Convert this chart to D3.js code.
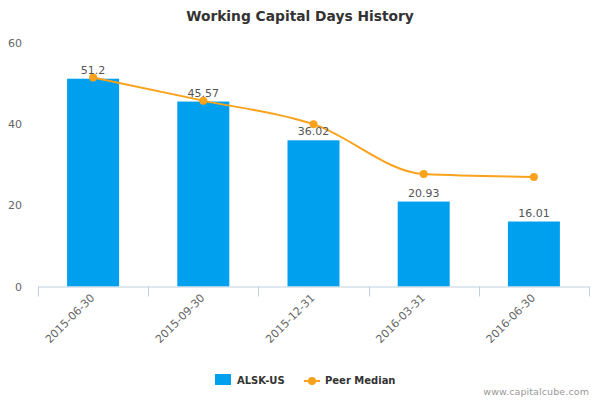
<!DOCTYPE html>
<html><head><meta charset="utf-8">
<script src="https://cdn.jsdelivr.net/npm/d3@7/dist/d3.min.js"></script>
<style>body{margin:0;background:#fff;font-family:"DejaVu Sans",Verdana,sans-serif;}</style>
</head><body><svg id="c" width="600" height="400"></svg>
<script>
const categories = ["2015-06-30","2015-09-30","2015-12-31","2016-03-31","2016-06-30"];
const companyValues = [51.2, 45.57, 36.02, 20.93, 16.01];
const peerMedian = [51.5, 45.8, 40.0, 27.7, 27.0];
const yTicks = [0, 20, 40, 60];

(function () {
const svg = d3.select("#c");
const pLeft = 38, pRight = 589, pTop = 43, pBottom = 286.5;
const x = d3.scaleBand().domain(categories).range([pLeft, pRight]).padding(0);
const y = d3.scaleLinear().domain([0, 60]).range([pBottom, pTop]);
const barColor = "#01A0EF", lineColor = "#FAA21B";

svg.append("text").attr("x", 300).attr("y", 21).attr("text-anchor", "middle")
  .attr("font-size", 13.8).attr("font-weight", "bold").attr("fill", "#333").text("Working Capital Days History");

svg.append("g").selectAll("text").data(yTicks).join("text")
  .attr("x", 22).attr("y", d => y(d) + 4).attr("text-anchor", "end")
  .attr("font-size", 11).attr("fill", "#666").text(d => d);

const bw = 52;
svg.append("g").selectAll("rect").data(companyValues).join("rect")
  .attr("x", (d, i) => x(categories[i]) + x.bandwidth() / 2 - bw / 2)
  .attr("width", bw).attr("y", d => y(d)).attr("height", d => pBottom - y(d))
  .attr("fill", barColor);

const xa = svg.append("g");
xa.append("line").attr("x1", pLeft).attr("x2", pRight).attr("y1", pBottom + 0.5).attr("y2", pBottom + 0.5)
  .attr("stroke", "#C0D0E0");
const bounds = categories.map(c => x(c)).concat([pRight]);
xa.selectAll("line.t").data(bounds).join("line").attr("class", "t")
  .attr("x1", d => Math.round(d) + 0.5).attr("x2", d => Math.round(d) + 0.5)
  .attr("y1", pBottom).attr("y2", pBottom + 10).attr("stroke", "#C0D0E0");
xa.selectAll("text").data(categories).join("text")
  .attr("transform", d => `translate(${x(d) + x.bandwidth() / 2 + 2},${pBottom + 12}) rotate(-45)`)
  .attr("text-anchor", "end").attr("font-size", 11).attr("fill", "#666").text(d => d);

const line = d3.line().x((d, i) => x(categories[i]) + x.bandwidth() / 2).y(d => y(d)).curve(d3.curveMonotoneX);
svg.append("path").attr("d", line(peerMedian)).attr("fill", "none").attr("stroke", lineColor).attr("stroke-width", 2);
svg.append("g").selectAll("circle").data(peerMedian).join("circle")
  .attr("cx", (d, i) => x(categories[i]) + x.bandwidth() / 2).attr("cy", d => y(d)).attr("r", 4).attr("fill", lineColor);

svg.append("g").selectAll("text").data(companyValues).join("text")
  .attr("x", (d, i) => x(categories[i]) + x.bandwidth() / 2).attr("y", d => y(d) - 5)
  .attr("text-anchor", "middle").attr("font-size", 11).attr("fill", "#555").text(d => d);

svg.append("rect").attr("x", 215).attr("y", 374).attr("width", 16).attr("height", 11).attr("fill", barColor);
svg.append("text").attr("x", 237).attr("y", 384).attr("font-size", 10).attr("font-weight", "bold").attr("fill", "#333").text("ALSK-US");
svg.append("line").attr("x1", 304).attr("x2", 320).attr("y1", 381).attr("y2", 381).attr("stroke", lineColor).attr("stroke-width", 2);
svg.append("circle").attr("cx", 312).attr("cy", 381).attr("r", 4).attr("fill", lineColor);
svg.append("text").attr("x", 325).attr("y", 384).attr("font-size", 10).attr("font-weight", "bold").attr("fill", "#333").text("Peer Median");

svg.append("text").attr("x", 589).attr("y", 395).attr("text-anchor", "end").attr("font-size", 9.5)
  .attr("fill", "#999").attr("letter-spacing", 0.1).text("www.capitalcube.com");
})();
</script></body></html>
